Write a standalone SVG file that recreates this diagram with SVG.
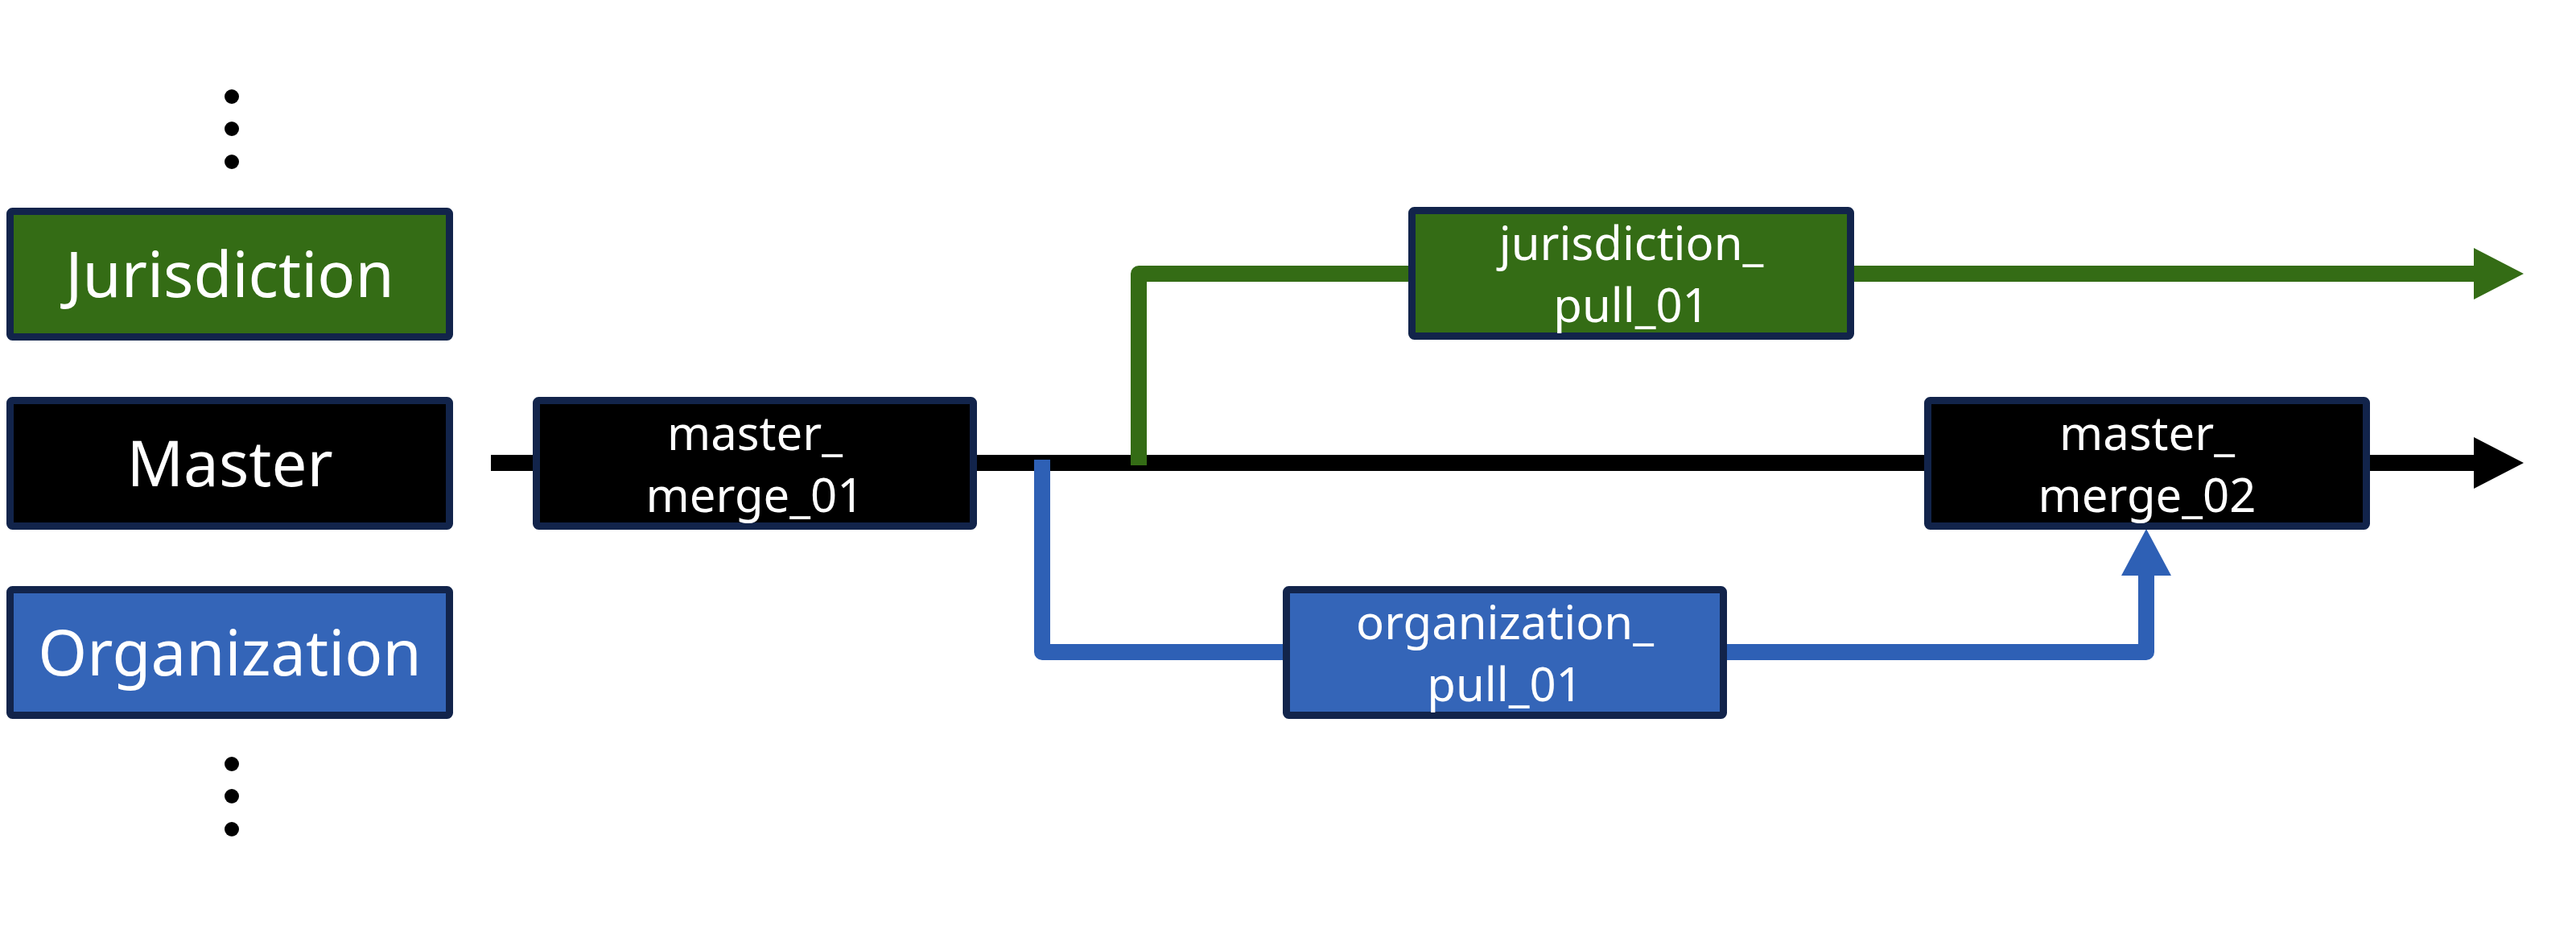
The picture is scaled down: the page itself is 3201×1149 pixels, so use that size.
<svg xmlns="http://www.w3.org/2000/svg" width="3201" height="1149" viewBox="0 0 3201 1149">
<style>
  .box { stroke: #12244B; stroke-width: 9; }
  .black { fill: #000000; }
  .green { fill: #346C15; }
  .blue { fill: #3465B8; }
  .lbl { font-family: "Noto Sans", "Open Sans", sans-serif; font-size: 78px; fill: #FFFFFF; text-anchor: middle; }
  .nl { font-family: "Noto Sans", "Open Sans", sans-serif; font-size: 58px; fill: #FFFFFF; text-anchor: middle; }
  .ln { fill: none; stroke-width: 20; stroke-linejoin: round; }
  .dot { fill: #000000; }
</style>
<defs>
  <marker id="ah-black" markerUnits="userSpaceOnUse" viewBox="0 0 62 64" markerWidth="62" markerHeight="64" refX="0" refY="32" orient="auto">
    <path d="M0,0 L62,32 L0,64 z" fill="#000000"/>
  </marker>
  <marker id="ah-green" markerUnits="userSpaceOnUse" viewBox="0 0 62 64" markerWidth="62" markerHeight="64" refX="0" refY="32" orient="auto">
    <path d="M0,0 L62,32 L0,64 z" fill="#346C15"/>
  </marker>
  <marker id="ah-blue" markerUnits="userSpaceOnUse" viewBox="0 0 58 62" markerWidth="58" markerHeight="62" refX="0" refY="31" orient="auto">
    <path d="M0,0 L58,31 L0,62 z" fill="#2E60B5"/>
  </marker>
</defs>

<g id="ellipsis-top">
  <circle class="dot" cx="288" cy="120" r="9"/>
  <circle class="dot" cx="288" cy="160" r="9"/>
  <circle class="dot" cx="288" cy="201" r="9"/>
</g>
<g id="ellipsis-bottom">
  <circle class="dot" cx="288" cy="949" r="9"/>
  <circle class="dot" cx="288" cy="989" r="9"/>
  <circle class="dot" cx="288" cy="1030" r="9"/>
</g>

<g id="connectors">
  <path class="ln" stroke="#000000" d="M610,575 H3074" marker-end="url(#ah-black)"/>
  <path class="ln" stroke="#346C15" d="M1415,578 V340 H3074" marker-end="url(#ah-green)"/>
  <path class="ln" stroke="#2E60B5" d="M1295,571 V810 H2667 V715" marker-end="url(#ah-blue)"/>
</g>

<g id="label-jurisdiction">
  <rect class="box green" x="12.5" y="262.5" width="546" height="156" rx="3"/>
  <text class="lbl" x="285.5" y="369">Jurisdiction</text>
</g>
<g id="label-master">
  <rect class="box black" x="12.5" y="497.5" width="546" height="156" rx="3"/>
  <text class="lbl" x="285.5" y="604">Master</text>
</g>
<g id="label-organization">
  <rect class="box blue" x="12.5" y="732.5" width="546" height="156" rx="3"/>
  <text class="lbl" x="285.5" y="839">Organization</text>
</g>

<g id="master_merge_01">
  <rect class="box black" x="666.5" y="497.5" width="543" height="156" rx="3"/>
  <text class="nl" x="938" y="559">master_</text>
  <text class="nl" x="938" y="636">merge_01</text>
</g>
<g id="jurisdiction_pull_01">
  <rect class="box green" x="1754.5" y="261.5" width="545" height="156" rx="3"/>
  <text class="nl" x="2027" y="323">jurisdiction_</text>
  <text class="nl" x="2027" y="400">pull_01</text>
</g>
<g id="master_merge_02">
  <rect class="box black" x="2395.5" y="497.5" width="545" height="156" rx="3"/>
  <text class="nl" x="2668" y="559">master_</text>
  <text class="nl" x="2668" y="636">merge_02</text>
</g>
<g id="organization_pull_01">
  <rect class="box blue" x="1598.5" y="732.5" width="543" height="156" rx="3"/>
  <text class="nl" x="1870" y="794">organization_</text>
  <text class="nl" x="1870" y="871">pull_01</text>
</g>
</svg>
